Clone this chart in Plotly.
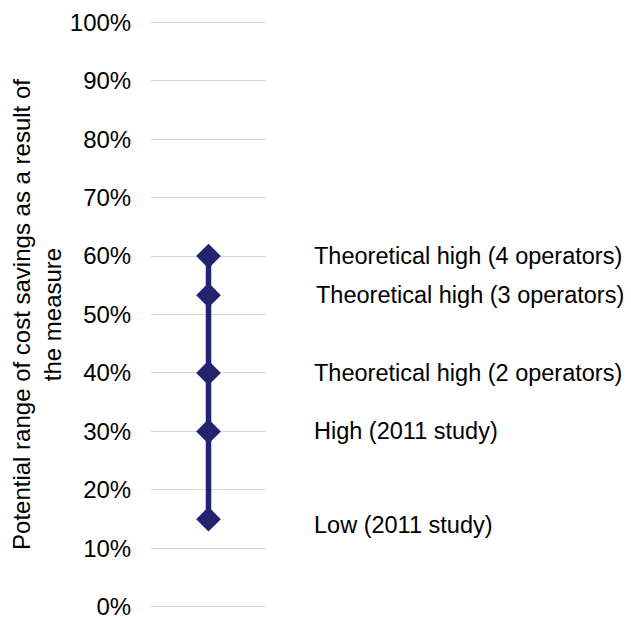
import plotly.graph_objects as go

labels = ["Low (2011 study)", "High (2011 study)", "Theoretical high (2 operators)",
          "Theoretical high (3 operators)", "Theoretical high (4 operators)"]
values = [0.15, 0.30, 0.40, 0.533, 0.60]
label_offsets = [-0.01, 0, 0, 0, 0]
label_x = [1.40, 1.40, 1.40, 1.415, 1.40]
y_ticks = [i / 10 for i in range(11)]

color = "#232370"
FONT = "Liberation Sans, Arial, sans-serif"

fig = go.Figure()
fig.add_trace(go.Scatter(
    x=[1] * len(values), y=values, mode="lines+markers",
    line=dict(color=color, width=5.5),
    marker=dict(symbol="diamond", size=19, color=color),
    showlegend=False, hoverinfo="skip",
))

for lab, v, off, lx in zip(labels, values, label_offsets, label_x):
    fig.add_annotation(x=lx, xref="paper", y=v + off, yref="y", text=lab,
                       showarrow=False, xanchor="left", yanchor="middle",
                       font=dict(size=23.5, color="#000000", family=FONT))

fig.update_layout(
    width=623, height=612,
    margin=dict(l=143, r=365, t=13, b=12),
    paper_bgcolor="white", plot_bgcolor="white",
    font=dict(family=FONT, size=24, color="#000000"),
    xaxis=dict(range=[0, 2], showgrid=False, showticklabels=False, zeroline=False,
               showline=False, ticks=""),
    yaxis=dict(range=[-0.002, 1.002], tickvals=y_ticks, tickformat=".0%",
               showgrid=True, gridcolor="#d6d6d6", gridwidth=1.2,
               zeroline=False, showline=False, automargin=False,
               ticks="outside", ticklen=14, tickcolor="rgba(0,0,0,0)",
               ticklabeloverflow="allow",
               tickfont=dict(size=24),
               title=dict(text="Potential range of cost savings as a result of<br>the measure",
                          font=dict(size=24), standoff=6)),
)

fig.write_html("out.html")
